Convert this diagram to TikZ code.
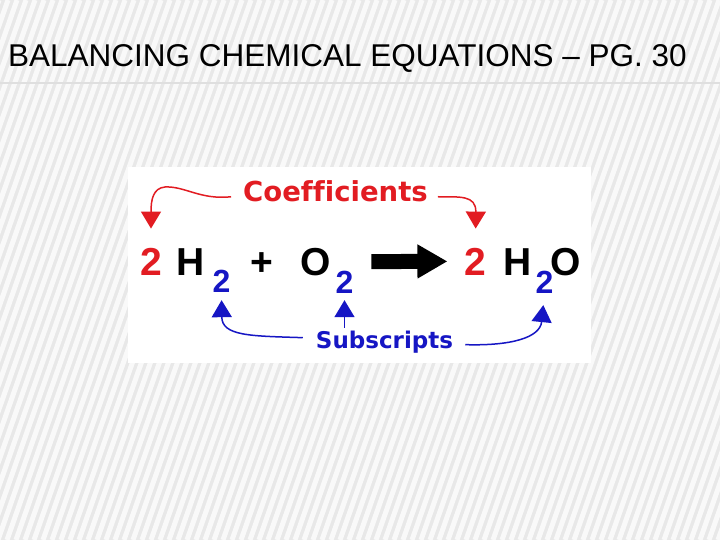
\documentclass[tikz,border=0pt]{standalone}
\usepackage{fontspec}
\setmainfont{Liberation Sans}
\newfontfamily\labelfont[Ligatures=NoCommon]{DejaVu Sans}
\usetikzlibrary{arrows.meta,calc}
\definecolor{coefred}{RGB}{226,28,34}
\definecolor{subblue}{RGB}{22,22,196}
\definecolor{bggray}{RGB}{232,232,232}
\tikzset{
  eq/.style={anchor=base,inner sep=0pt,font=\fontsize{39}{39}\selectfont\bfseries},
  sub/.style={anchor=base,inner sep=0pt,text=subblue,font=\fontsize{32}{32}\selectfont\bfseries},
  redarrow/.style={draw=coefred,line width=1.5pt,-{Triangle[width=20pt,length=17pt]}},
  bluearrow/.style={draw=subblue,line width=1.5pt,-{Triangle[width=20pt,length=17pt]}},
}
\begin{document}
\begin{tikzpicture}[x=1pt,y=-1pt]
\useasboundingbox (0,0) rectangle (720,540);
\fill[bggray] (0,0) rectangle (720,540);
\begin{scope}
\clip (0,0) rectangle (720,540);
\foreach \i in {-200,-191,...,720}
  \draw[white,opacity=0.75,line width=5pt] (\i,540) -- (\i+190,0);
\end{scope}
% title
\node[anchor=base west,inner sep=0pt,font=\fontsize{31.5}{31.5}\selectfont] (title) at (8,67) {BALANCING CHEMICAL EQUATIONS – PG. 30};
\draw[gray!25,line width=1.5pt] (0,83) -- (720,83);
% picture
\fill[white] (128,167) rectangle (591,363);
\node[eq,text=coefred] (c1) at (151,275) {2};
\node[eq] (h1) at (190.5,275) {H};
\node[sub] (s1) at (221.5,292) {2};
\node[eq] (plus) at (262,275) {+};
\node[eq] (o1) at (316,275) {O};
\node[sub] (s2) at (344.5,293) {2};
\node[eq,text=coefred] (c2) at (475.5,275) {2};
\node[eq] (h2) at (518,275) {H};
\node[sub] (s3) at (544.5,293) {2};
\node[eq] (o2) at (565.5,275) {O};
\node[anchor=base,inner sep=0pt,text=coefred,font=\labelfont\fontsize{27.5}{27.5}\selectfont\bfseries] (coef) at (335.5,202) {Coefficients};
\node[anchor=base,inner sep=0pt,text=subblue,font=\labelfont\fontsize{23}{23}\selectfont\bfseries] (subs) at (384.5,348) {Subscripts};
\draw[line width=15pt,-{Triangle[width=32pt,length=30pt]}] ($(o1.east)+(40,0)$) -- ($(c2.west)+(-17,0)$);
\draw[redarrow,shorten >=19pt] ($(coef.west)+(-12,5)$) .. controls (200,200) and (185,186) .. (165,187)
  .. controls (153,188) and (151,200) .. (c1.north);
\draw[redarrow,shorten >=19pt] ($(coef.east)+(10,5)$) .. controls (460,197) and (476,195) .. (c2.north);
\draw[bluearrow,shorten >=8pt] ($(subs.west)+(-13,-4)$) .. controls (250,336) and (222,336) .. (s1.south);
\draw[bluearrow,shorten <=2.5pt,shorten >=7pt] (s2.south |- subs.north) -- (s2.south);
\draw[bluearrow,shorten >=12pt] ($(subs.east)+(12,3)$) .. controls (510,346) and (540,338) .. (s3.south);
\end{tikzpicture}
\end{document}
